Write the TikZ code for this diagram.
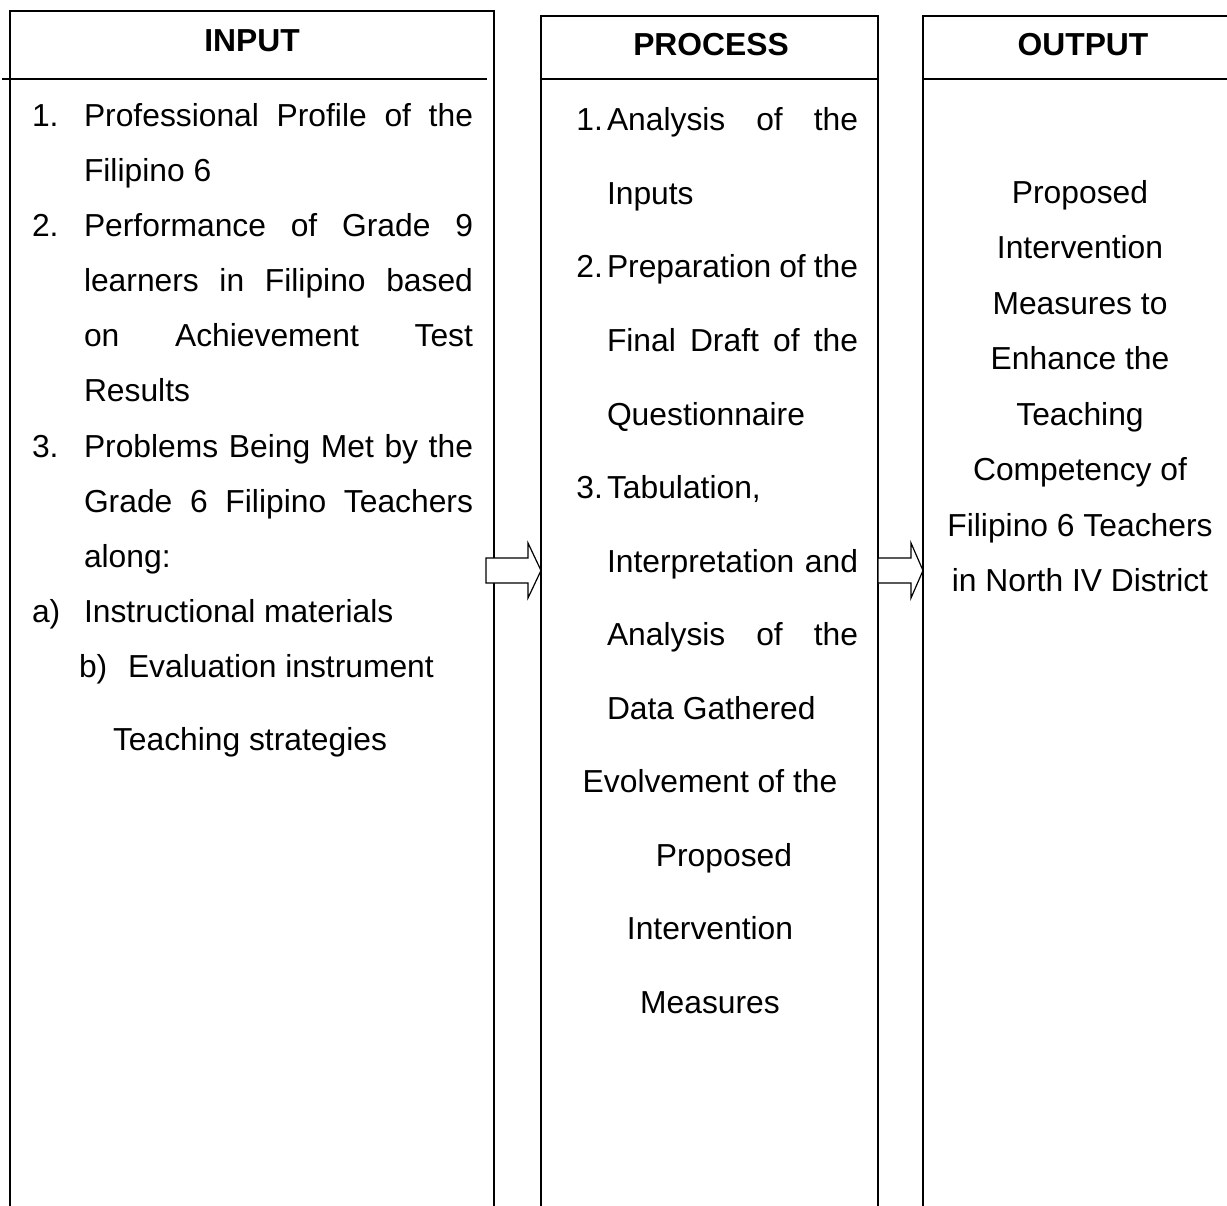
\documentclass[tikz,border=0pt]{standalone}
\usepackage{fontspec}
\setmainfont{Liberation Sans}
\begin{document}
\begin{tikzpicture}[x=1pt,y=-1pt,
  frame/.style={draw=black,line width=1.2pt},
  txt/.style={inner sep=0pt,outer sep=0pt,font=\fontsize{31.8}{38}\selectfont},
  lt/.style={txt,anchor=base west},
  nt/.style={txt,anchor=base east},
  ct/.style={txt,anchor=base},
  hd/.style={txt,anchor=base,font=\fontsize{31.8}{38}\selectfont\bfseries},
  flow/.style={draw=black,fill=white,line width=1.2pt,line join=miter}]
\newcommand\jl[2]{\makebox[#1pt][s]{#2}}
\useasboundingbox (0,0) rectangle (1227,1206);
\clip (0,0) rectangle (1227,1206);
\fill[white] (0,0) rectangle (1227,1206);
% boxes
\coordinate (inNW) at (10,11);   \coordinate (inSE) at (494,1220);
\coordinate (prNW) at (541,16);  \coordinate (prSE) at (878,1220);
\coordinate (ouNW) at (923,16);  \coordinate (ouSE) at (1240,1220);
\draw[frame] (inNW) rectangle (inSE);
\draw[frame] (prNW) rectangle (prSE);
\draw[frame] (ouNW) rectangle (ouSE);
\coordinate (inHL) at (2,79);   \coordinate (inHR) at (487,79);
\coordinate (prHL) at (541,79); \coordinate (prHR) at (878,79);
\coordinate (ouHL) at (923,79); \coordinate (ouHR) at (1240,79);
\draw[frame] (inHL) -- (inHR);
\draw[frame] (prHL) -- (prHR);
\draw[frame] (ouHL) -- (ouHR);
% headers
\node[hd] (hin) at (252,52) {INPUT};
\node[hd] (hpr) at (711,56) {PROCESS};
\node[hd] (hou) at (1083,56) {OUTPUT};
% arrows
\coordinate (a1) at (486,570.5);
\coordinate (a2) at (878,570.5);
\draw[flow] (a1) ++(0,-12.5) -- ++(42,0) -- ++(0,-15) -- (prNW |- a1) -- ++(-13,27.5) -- ++(0,-15) -- ++(-42,0) -- cycle;
\draw[flow] (a2) ++(0,-12.5) -- ++(33,0) -- ++(0,-15) -- (ouNW |- a2) -- ++(-12,27.5) -- ++(0,-15) -- ++(-33,0) -- cycle;
% input text
\node[lt] (i1n) at (32,127) {1.};
\node[lt] (i1) at (84,127) {\jl{389}{Professional Profile of the}};
\node[lt] (i2) at (84,182) {Filipino 6};
\node[lt] (i3n) at (32,237) {2.};
\node[lt] (i3) at (84,237) {\jl{389}{Performance of Grade 9}};
\node[lt] (i4) at (84,292) {\jl{389}{learners in Filipino based}};
\node[lt] (i5) at (84,347) {\jl{389}{on Achievement Test}};
\node[lt] (i6) at (84,402) {Results};
\node[lt] (i7n) at (32,457) {3.};
\node[lt] (i7) at (84,457) {\jl{389}{Problems Being Met by the}};
\node[lt] (i8) at (84,512) {\jl{389}{Grade 6 Filipino Teachers}};
\node[lt] (i9) at (84,567) {along:};
\node[lt] (i10n) at (32,622) {a)};
\node[lt] (i10) at (84,622) {Instructional materials};
\node[lt] (i11n) at (79,677) {b)};
\node[lt] (i11) at (128,677) {Evaluation instrument};
\node[lt] (i12) at (113,750) {Teaching strategies};
% process text
\node[nt] (p1n) at (603,131) {1.};
\node[lt] (p1) at (607,131) {\jl{251}{Analysis of the}};
\node[lt] (p2) at (607,204.5) {Inputs};
\node[nt] (p3n) at (603,278) {2.};
\node[lt] (p3) at (607,278) {\jl{251}{Preparation of the}};
\node[lt] (p4) at (607,351.5) {\jl{251}{Final Draft of the}};
\node[lt] (p5) at (607,425) {Questionnaire};
\node[nt] (p6n) at (603,498.5) {3.};
\node[lt] (p6) at (607,498.5) {Tabulation,};
\node[lt] (p7) at (607,572) {\jl{251}{Interpretation and}};
\node[lt] (p8) at (607,645.5) {\jl{251}{Analysis of the}};
\node[lt] (p9) at (607,719) {Data Gathered};
\node[ct] (p10) at (710,792.5) {Evolvement of the};
\node[ct] (p11) at (724,866) {Proposed};
\node[ct] (p12) at (710,939.5) {Intervention};
\node[ct] (p13) at (710,1013) {Measures};
% output text
\node[ct] (o1) at (1080,204) {Proposed};
\node[ct] (o2) at (1080,259) {Intervention};
\node[ct] (o3) at (1080,315) {Measures to};
\node[ct] (o4) at (1080,370) {Enhance the};
\node[ct] (o5) at (1080,425) {Teaching};
\node[ct] (o6) at (1080,480) {Competency of};
\node[ct] (o7) at (1080,536) {Filipino 6 Teachers};
\node[ct] (o8) at (1080,591) {in North IV District};
\end{tikzpicture}
\end{document}
